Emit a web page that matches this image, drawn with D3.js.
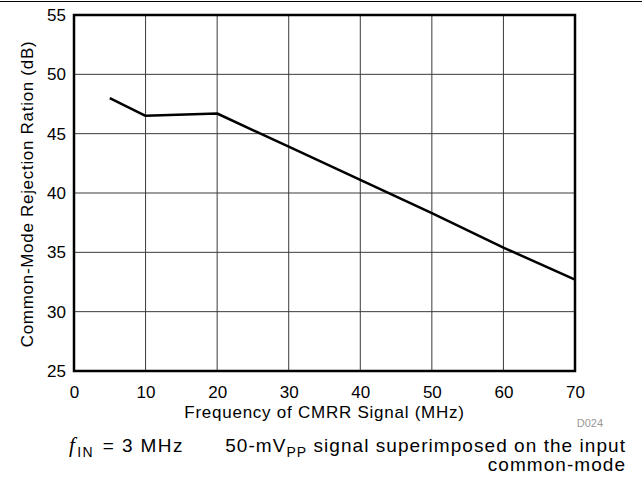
<!DOCTYPE html>
<html><head><meta charset="utf-8">
<script src="https://cdn.jsdelivr.net/npm/d3@7"></script>
<style>body{margin:0;background:#fff}svg{display:block;font-family:"Liberation Sans",Arial,sans-serif}</style>
</head><body><div id="c"></div>
<script>
const freq = [5, 10, 20, 30, 40, 50, 60, 70];
const cmrr = [48.0, 46.5, 46.7, 43.9, 41.1, 38.3, 35.4, 32.7];
const xTicks = [0, 10, 20, 30, 40, 50, 60, 70];
const yTicks = [25, 30, 35, 40, 45, 50, 55];

const W = 642, H = 483;
const m = {left: 74, right: 575, top: 15, bottom: 371};
const svg = d3.select("#c").append("svg").attr("width", W).attr("height", H);
const x = d3.scaleLinear().domain([0, 70]).range([m.left, m.right]);
const y = d3.scaleLinear().domain([25, 55]).range([m.bottom, m.top]);

svg.append("line").attr("x1", 0).attr("x2", W).attr("y1", 1.5).attr("y2", 1.5)
  .attr("stroke", "#000").attr("stroke-width", 1.2);

// grid
svg.append("g").selectAll("line").data(xTicks.slice(1, -1)).join("line")
  .attr("x1", d => x(d)).attr("x2", d => x(d)).attr("y1", m.top).attr("y2", m.bottom)
  .attr("stroke", "#3a3a3a").attr("stroke-width", 1);
svg.append("g").selectAll("line").data(yTicks.slice(1, -1)).join("line")
  .attr("y1", d => y(d)).attr("y2", d => y(d)).attr("x1", m.left).attr("x2", m.right)
  .attr("stroke", "#3a3a3a").attr("stroke-width", 1);

// axes labels via d3 axes
const xAxis = svg.append("g").attr("transform", `translate(0,${m.bottom})`)
  .call(d3.axisBottom(x).tickValues(xTicks).tickSize(0).tickPadding(15));
xAxis.select(".domain").remove();
xAxis.selectAll("text").attr("font-size", 17).attr("fill", "#000").attr("font-family", "Liberation Sans, Arial, sans-serif");
const yAxis = svg.append("g").attr("transform", `translate(${m.left},0)`)
  .call(d3.axisLeft(y).tickValues(yTicks).tickSize(0).tickPadding(8));
yAxis.select(".domain").remove();
yAxis.selectAll("text").attr("font-size", 17).attr("fill", "#000").attr("font-family", "Liberation Sans, Arial, sans-serif");

// frame
svg.append("rect").attr("x", m.left).attr("y", m.top).attr("width", m.right - m.left).attr("height", m.bottom - m.top)
  .attr("fill", "none").attr("stroke", "#000").attr("stroke-width", 2.5);

// line
svg.append("path").datum(freq.map((f, i) => [f, cmrr[i]]))
  .attr("d", d3.line().x(d => x(d[0])).y(d => y(d[1])))
  .attr("fill", "none").attr("stroke", "#000").attr("stroke-width", 2.5).attr("stroke-linejoin", "round");

svg.append("text").attr("x", (m.left + m.right) / 2).attr("y", 418).attr("text-anchor", "middle")
  .attr("font-size", 17).attr("letter-spacing", 0.75).text("Frequency of CMRR Signal (MHz)");
svg.append("text").attr("transform", `translate(33,${(m.top + m.bottom) / 2 + 1}) rotate(-90)`).attr("text-anchor", "middle")
  .attr("font-size", 17).attr("letter-spacing", 0.7).text("Common-Mode Rejection Ration (dB)");
svg.append("text").attr("x", 603).attr("y", 427).attr("text-anchor", "end").attr("font-size", 11).attr("fill", "#999").text("D024");

const c1 = svg.append("text").attr("x", 69).attr("y", 452).attr("font-size", 19).attr("letter-spacing", 1.4);
c1.append("tspan").attr("font-style", "italic").attr("font-family", "Liberation Serif, serif").attr("font-size", 21).text("f");
c1.append("tspan").attr("font-size", 14).attr("dy", 5).attr("dx", 1).text("IN");
c1.append("tspan").attr("dy", -5).attr("dx", 2).text(" = 3 MHz");
const c2 = svg.append("text").attr("x", 626).attr("y", 452).attr("font-size", 19).attr("text-anchor", "end").attr("letter-spacing", 1.05);
c2.append("tspan").text("50-mV");
c2.append("tspan").attr("font-size", 14).attr("dy", 5).text("PP");
c2.append("tspan").attr("dy", -5).text(" signal superimposed on the input");
svg.append("text").attr("x", 626).attr("y", 471).attr("font-size", 19).attr("text-anchor", "end").attr("letter-spacing", 1.05).text("common-mode");
</script></body></html>
